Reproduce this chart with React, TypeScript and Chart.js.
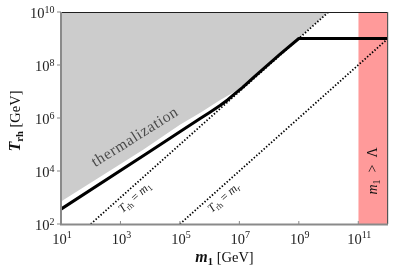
import React, { useEffect, useRef } from 'react';
import { Chart, registerables } from 'chart.js';
Chart.register(...registerables);

// ---- data (m1 in GeV, T_rh in GeV) ----
const blackM = [1e1, 1e4, 1e5, 4.8e5, 1e6, 2.24e6, 4.0e6, 7.1e6, 1.26e7, 3.16e7, 2.3e8, 1e9, 1e12];
const blackT = [363, 5.6e4, 3.0e5, 9.5e5, 1.62e6, 2.95e6, 4.8e6, 8.3e6, 1.41e7, 3.55e7, 2.5e8, 1e9, 1e9];
const thermM = [1e1, 5.8e3, 1e5, 5e5, 2.2e6, 7.1e6, 1.26e7, 3.16e7, 2.3e8, 1e9, 1e10];
const thermT = [708, 6.3e4, 5.6e5, 1.6e6, 4.7e6, 1.0e7, 1.5e7, 3.6e7, 2.6e8, 1.05e9, 1e10];
const eqM1M = [1e2, 1e10];
const eqM1T = [1e2, 1e10];
const eqMrM = [1e5, 1e12];
const eqMrT = [1e2, 1e9];
const bandM = [1e11, 1e12];
const bandT = [1e10, 1e10];
const xTickVals = [1e1, 1e3, 1e5, 1e7, 1e9, 1e11];
const xTickExp = ['1', '3', '5', '7', '9', '11'];
const yTickVals = [1e2, 1e4, 1e6, 1e8, 1e10];
const yTickExp = ['2', '4', '6', '8', '10'];

const SERIF = '"Liberation Serif", "DejaVu Serif", serif';

type Run = { t: string; f: string; dy?: number };

function runsWidth(ctx: CanvasRenderingContext2D, runs: Run[]) {
  let w = 0;
  for (const r of runs) {
    ctx.font = r.f;
    w += ctx.measureText(r.t).width;
  }
  return w;
}

function drawRuns(ctx: CanvasRenderingContext2D, runs: Run[], x: number, y: number, align: string, color: string) {
  const w = runsWidth(ctx, runs);
  let cx = align === 'center' ? x - w / 2 : align === 'right' ? x - w : x;
  ctx.fillStyle = color;
  ctx.textAlign = 'left';
  ctx.textBaseline = 'alphabetic';
  for (const r of runs) {
    ctx.font = r.f;
    ctx.fillText(r.t, cx, y + (r.dy || 0));
    cx += ctx.measureText(r.t).width;
  }
}

function drawRotated(ctx: CanvasRenderingContext2D, runs: Run[], x: number, y: number, angle: number, color: string) {
  ctx.save();
  ctx.translate(x, y);
  ctx.rotate(angle);
  drawRuns(ctx, runs, 0, 0, 'center', color);
  ctx.restore();
}

const pts = (xs: number[], ys: number[]) => xs.map((x, i) => ({ x, y: ys[i] }));

const decorPlugin = {
  id: 'decor',
  afterDatasetsDraw(chart: any) {
    const ctx: CanvasRenderingContext2D = chart.ctx;
    const xs = chart.scales.x;
    const ys = chart.scales.y;
    // thermalization label along the shaded boundary
    const p0x = xs.getPixelForValue(thermM[0]);
    const p0y = ys.getPixelForValue(thermT[0]);
    const p1x = xs.getPixelForValue(thermM[1]);
    const p1y = ys.getPixelForValue(thermT[1]);
    const aTh = Math.atan2(p1y - p0y, p1x - p0x);
    ctx.save();
    (ctx as any).letterSpacing = '0.7px';
    drawRotated(ctx, [{ t: 'thermalization', f: `15.5px ${SERIF}` }], 137.4, 140.8, aTh, '#4a4a4a');
    ctx.restore();

    // T_rh = m_1 label
    const l0x = xs.getPixelForValue(eqM1M[0]);
    const l0y = ys.getPixelForValue(eqM1T[0]);
    const l1x = xs.getPixelForValue(eqM1M[1]);
    const l1y = ys.getPixelForValue(eqM1T[1]);
    const aL = Math.atan2(l1y - l0y, l1x - l0x);
    const nx = -Math.sin(aL), ny = Math.cos(aL);
    const off = 13;
    const a1x = xs.getPixelForValue(Math.pow(10, 3.27));
    const a1y = ys.getPixelForValue(Math.pow(10, 3.27));
    const lab1: Run[] = [
      { t: 'T', f: `italic 12px ${SERIF}` },
      { t: 'rh', f: `8.5px ${SERIF}`, dy: 2.5 },
      { t: ' = ', f: `12px ${SERIF}` },
      { t: 'm', f: `italic 12px ${SERIF}` },
      { t: '1', f: `8.5px ${SERIF}`, dy: 2.5 },
    ];
    drawRotated(ctx, lab1, a1x + nx * off, a1y + ny * off, aL, '#222');
    const a2x = xs.getPixelForValue(Math.pow(10, 6.26));
    const a2y = ys.getPixelForValue(Math.pow(10, 3.26));
    const lab2: Run[] = [
      { t: 'T', f: `italic 12px ${SERIF}` },
      { t: 'rh', f: `8.5px ${SERIF}`, dy: 2.5 },
      { t: ' = ', f: `12px ${SERIF}` },
      { t: 'm', f: `italic 12px ${SERIF}` },
      { t: 'r', f: `italic 8.5px ${SERIF}`, dy: 2.5 },
    ];
    drawRotated(ctx, lab2, a2x + nx * off, a2y + ny * off, aL, '#222');

    // band label
    const bx = (xs.getPixelForValue(bandM[0]) + xs.getPixelForValue(bandM[1])) / 2;
    const bandLab: Run[] = [
      { t: 'm', f: `italic 14px ${SERIF}` },
      { t: '1', f: `10px ${SERIF}`, dy: 3 },
      { t: '  >  ', f: `14px ${SERIF}` },
      { t: 'Λ', f: `14px ${SERIF}` },
    ];
    drawRotated(ctx, bandLab, bx + 4, 171, -Math.PI / 2, '#111');
  },
  afterDraw(chart: any) {
    const ctx: CanvasRenderingContext2D = chart.ctx;
    const ca = chart.chartArea;
    const xs = chart.scales.x;
    const ys = chart.scales.y;
    ctx.save();
    // frame
    ctx.fillStyle = '#1e1e1e';
    ctx.fillRect(ca.left, ca.top, ca.right - ca.left, 1);
    ctx.fillStyle = '#555';
    ctx.fillRect(ca.right - 1, ca.top, 1.2, ca.bottom - ca.top);
    ctx.fillStyle = '#8a8a8a';
    ctx.fillRect(ca.left - 1, ca.top, 2, ca.bottom - ca.top + 1);
    ctx.fillRect(ca.left - 1, ca.bottom - 0.5, ca.right - ca.left + 1, 2);
    // ticks + labels
    xTickVals.forEach((v, i) => {
      const px = xs.getPixelForValue(v);
      ctx.fillStyle = '#8a8a8a';
      ctx.fillRect(px - 0.5, ca.bottom - 3, 1, 3);
      drawRuns(ctx, [
        { t: '10', f: `14.5px ${SERIF}` },
        { t: xTickExp[i], f: `10px ${SERIF}`, dy: -5.5 },
      ], px + 1, ca.bottom + 19.5, 'center', '#222');
    });
    yTickVals.forEach((v, i) => {
      const py = ys.getPixelForValue(v);
      ctx.fillStyle = '#8a8a8a';
      ctx.fillRect(ca.left - 4, py - 0.5, 4, 1);
      drawRuns(ctx, [
        { t: '10', f: `14.5px ${SERIF}` },
        { t: yTickExp[i], f: `10px ${SERIF}`, dy: -5.5 },
      ], ca.left - 6.5, py + 6, 'right', '#222');
    });
    // axis titles
    drawRuns(ctx, [
      { t: 'm', f: `bold italic 16px ${SERIF}` },
      { t: '1', f: `bold 10.5px ${SERIF}`, dy: 3 },
      { t: ' [GeV]', f: `14.5px ${SERIF}` },
    ], (ca.left + ca.right) / 2, 262, 'center', '#111');
    ctx.save();
    ctx.translate(19.5, (ca.top + ca.bottom) / 2 + 3);
    ctx.rotate(-Math.PI / 2);
    drawRuns(ctx, [
      { t: 'T', f: `bold italic 16px ${SERIF}` },
      { t: 'rh', f: `bold 10.5px ${SERIF}`, dy: 3 },
      { t: ' [GeV]', f: `14.5px ${SERIF}` },
    ], 0, 0, 'center', '#111');
    ctx.restore();
    ctx.restore();
  },
};

export default function App() {
  const ref = useRef<HTMLCanvasElement | null>(null);
  useEffect(() => {
    if (!ref.current) return;
    const chart = new Chart(ref.current, {
      type: 'scatter',
      data: {
        datasets: [
          {
            label: 'boundary',
            data: pts(blackM, blackT),
            showLine: true,
            borderColor: '#000',
            borderWidth: 3,
            borderJoinStyle: 'round',
            pointRadius: 0,
            fill: false,
            order: 1,
          },
          {
            label: 'Trh = m1',
            data: pts(eqM1M, eqM1T),
            showLine: true,
            borderColor: '#000',
            borderWidth: 1.8,
            borderDash: [1.4, 1.9],
            pointRadius: 0,
            fill: false,
            order: 2,
          },
          {
            label: 'Trh = mr',
            data: pts(eqMrM, eqMrT),
            showLine: true,
            borderColor: '#000',
            borderWidth: 1.8,
            borderDash: [1.4, 1.9],
            pointRadius: 0,
            fill: false,
            order: 3,
          },
          {
            label: 'thermalization',
            data: pts(thermM, thermT),
            showLine: true,
            borderColor: 'rgba(0,0,0,0)',
            borderWidth: 0,
            backgroundColor: '#cccccc',
            pointRadius: 0,
            fill: 'end',
            order: 5,
          },
          {
            label: 'm1 > Lambda',
            data: pts(bandM, bandT),
            showLine: true,
            borderColor: 'rgba(0,0,0,0)',
            borderWidth: 0,
            backgroundColor: '#ff9a9a',
            pointRadius: 0,
            fill: 'start',
            order: 6,
          },
        ],
      } as any,
      options: {
        responsive: false,
        animation: false,
        devicePixelRatio: 1,
        layout: { padding: { left: 61, right: 7, top: 12, bottom: 50 } },
        plugins: { legend: { display: false }, tooltip: { enabled: false } },
        scales: {
          x: { type: 'logarithmic', min: 1e1, max: 1e12, display: false },
          y: { type: 'logarithmic', min: 1e2, max: 1e10, display: false },
        },
      } as any,
      plugins: [decorPlugin],
    });
    return () => chart.destroy();
  }, []);
  return (
    <div style={{ position: 'fixed', left: 0, top: 0, width: 395, height: 274, background: '#fff' }}>
      <canvas ref={ref} width={395} height={274} style={{ width: 395, height: 274, display: 'block' }} />
    </div>
  );
}
